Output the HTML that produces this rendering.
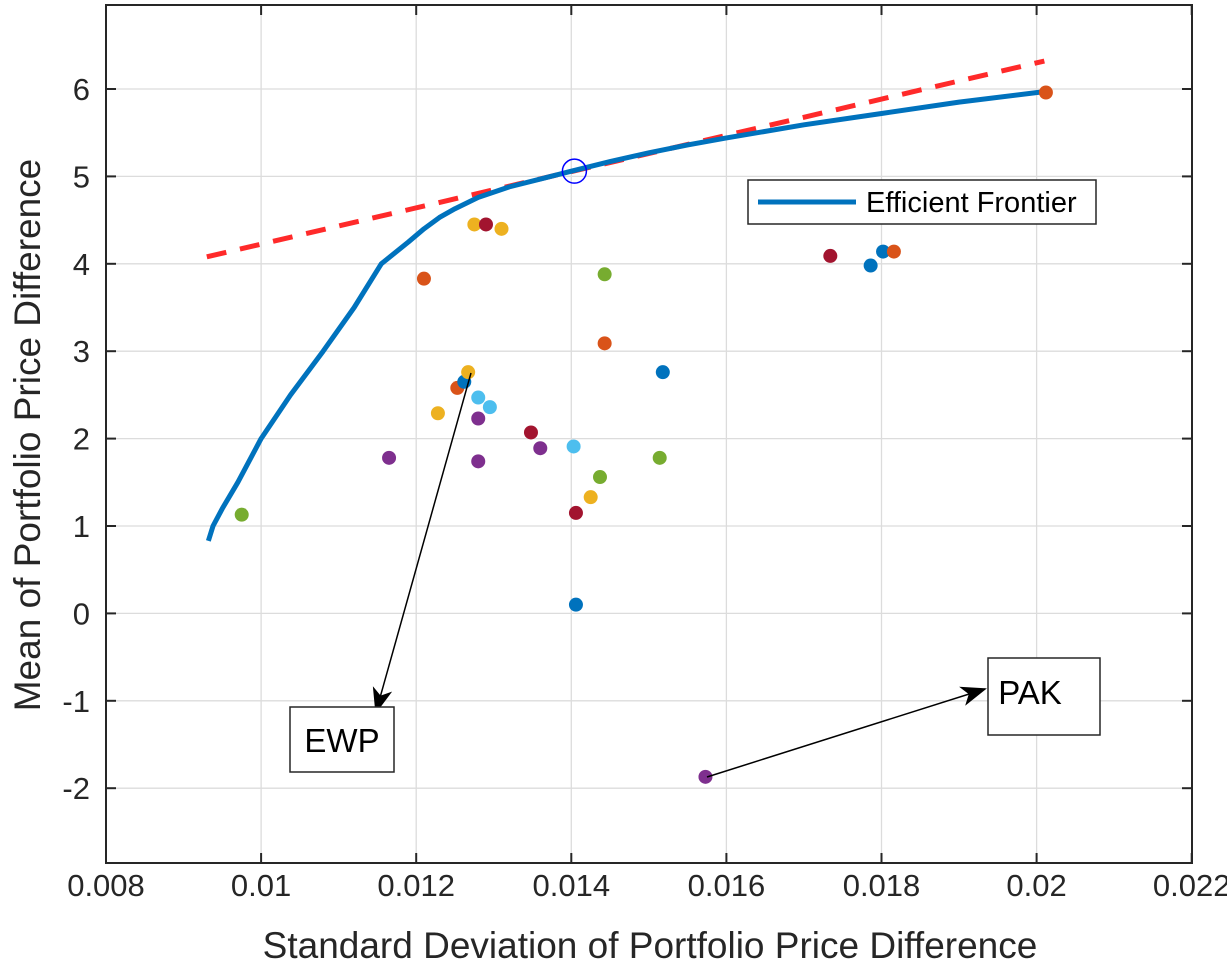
<!DOCTYPE html>
<html><head><meta charset="utf-8"><style>
body{margin:0;background:#fff}
svg{display:block;font-family:"Liberation Sans",Arial,sans-serif}
</style></head><body>
<svg id="chart" width="1227" height="975">
<defs><marker id="ah" markerWidth="26" markerHeight="20" refX="24" refY="10" orient="auto" markerUnits="userSpaceOnUse"><path d="M0,0 L26,10 L0,20 L7,10 Z" fill="#000"/></marker></defs>
<g id="grid"></g>
<g id="marks"></g>
<rect x="106" y="5" width="1086" height="858" fill="none" stroke="#262626" stroke-width="2"/>
<g id="ticks"></g>
<text x="650" y="958" font-size="37" text-anchor="middle" fill="#262626">Standard Deviation of Portfolio Price Difference</text>
<text transform="translate(40,435) rotate(-90)" font-size="37" text-anchor="middle" fill="#262626">Mean of Portfolio Price Difference</text>
<g>
<rect x="748" y="180" width="348" height="44" fill="#fff" stroke="#262626" stroke-width="1.5"/>
<line x1="758" y1="202" x2="856" y2="202" stroke="#0072BD" stroke-width="5"/>
<text x="866" y="212" font-size="29" fill="#000">Efficient Frontier</text>
</g>
<g>
<line x1="471" y1="373" x2="376" y2="712" stroke="#000" stroke-width="1.5" marker-end="url(#ah)"/>
<rect x="290" y="707" width="104" height="65" fill="#fff" stroke="#262626" stroke-width="1.5"/>
<text x="342" y="752" font-size="33" text-anchor="middle">EWP</text>
</g>
<g>
<line x1="707" y1="777" x2="985" y2="689" stroke="#000" stroke-width="1.5" marker-end="url(#ah)"/>
<rect x="988" y="658" width="112" height="77" fill="#fff" stroke="#262626" stroke-width="1.5"/>
<text x="1030" y="704" font-size="33" text-anchor="middle">PAK</text>
</g>
</svg>
<script>
const xTicks=[0.008,0.01,0.012,0.014,0.016,0.018,0.02,0.022];
const xTickLabels=["0.008","0.01","0.012","0.014","0.016","0.018","0.02","0.022"];
const yTicks=[-2,-1,0,1,2,3,4,5,6];
const frontierX=[0.00932,0.00938,0.0095,0.0097,0.0100,0.01038,0.0108,0.0112,0.01155,0.0119,0.0121,0.0123,0.0125,0.0128,0.0132,0.0136,0.014,0.0145,0.015,0.0155,0.016,0.017,0.018,0.019,0.0201];
const frontierY=[0.83,1.0,1.2,1.5,2.0,2.5,3.0,3.5,4.0,4.25,4.4,4.53,4.63,4.76,4.88,4.97,5.06,5.17,5.27,5.36,5.44,5.59,5.72,5.85,5.97];
const tangentX=[0.0093,0.0201];
const tangentY=[4.08,6.32];
const optimalX=[0.01404];
const optimalY=[5.06];
const assetX=[0.00975,0.01165,0.0121,0.01228,0.01253,0.01262,0.01267,0.01275,0.0129,0.0131,0.0128,0.01295,0.0128,0.0128,0.01348,0.0136,0.01403,0.01437,0.01425,0.01406,0.01406,0.01443,0.01443,0.01518,0.01514,0.01573,0.01734,0.01786,0.01802,0.01816,0.02012];
const assetY=[1.13,1.78,3.83,2.29,2.58,2.65,2.76,4.45,4.45,4.40,2.47,2.36,2.23,1.74,2.07,1.89,1.91,1.56,1.33,1.15,0.1,3.88,3.09,2.76,1.78,-1.87,4.09,3.98,4.14,4.14,5.96];
const assetColor=["#77AC30","#7E2F8E","#D95319","#EDB120","#D95319","#0072BD","#EDB120","#EDB120","#A2142F","#EDB120","#4DBEEE","#4DBEEE","#7E2F8E","#7E2F8E","#A2142F","#7E2F8E","#4DBEEE","#77AC30","#EDB120","#A2142F","#0072BD","#77AC30","#D95319","#0072BD","#77AC30","#7E2F8E","#A2142F","#0072BD","#0072BD","#D95319","#D95319"];
const NS="http://www.w3.org/2000/svg";
const X=v=>106+(v-0.008)/0.002*155.1;
const Y=v=>89-(v-6)*87.4;
function mk(p,t,a){const e=document.createElementNS(NS,t);for(const k in a)e.setAttribute(k,a[k]);document.getElementById(p).appendChild(e);return e;}
xTicks.forEach((t,i)=>{
 const g=mk('grid','line',{x1:X(t),x2:X(t),y1:5,y2:863,stroke:'#dcdcdc','stroke-width':1.3});
 
 
 mk('ticks','line',{x1:X(t),x2:X(t),y1:863,y2:853,stroke:'#262626','stroke-width':2});
 mk('ticks','line',{x1:X(t),x2:X(t),y1:5,y2:15,stroke:'#262626','stroke-width':2});
 const l=mk('ticks','text',{x:X(t),y:896,'font-size':31,'text-anchor':'middle',fill:'#262626'});
 l.textContent=xTickLabels[i];
 
 
});
yTicks.forEach(t=>{
 const g=mk('grid','line',{x1:106,x2:1192,y1:Y(t),y2:Y(t),stroke:'#dcdcdc','stroke-width':1.3});
 
 
 mk('ticks','line',{x1:106,x2:116,y1:Y(t),y2:Y(t),stroke:'#262626','stroke-width':2});
 mk('ticks','line',{x1:1182,x2:1192,y1:Y(t),y2:Y(t),stroke:'#262626','stroke-width':2});
 const l=mk('ticks','text',{x:90,y:Y(t)+11,'font-size':31,'text-anchor':'end',fill:'#262626'});
 l.textContent=String(t);
 
 
});
const tl=mk('marks','line',{x1:X(tangentX[0]),y1:Y(tangentY[0]),x2:X(tangentX[1]),y2:Y(tangentY[1]),stroke:'#ff2a2a','stroke-width':5,'stroke-dasharray':'20,14'});


const fp=mk('marks','path',{d:frontierX.map((x,i)=>(i?'L':'M')+X(x)+','+Y(frontierY[i])).join(''),fill:'none',stroke:'#0072BD','stroke-width':5,'stroke-linejoin':'round'});


assetX.forEach((x,i)=>{
 const c=mk('marks','circle',{cx:X(x),cy:Y(assetY[i]),r:7,fill:assetColor[i]});
 
 
});
const oc=mk('marks','circle',{cx:X(optimalX[0]),cy:Y(optimalY[0]),r:12,fill:'none',stroke:'#0000ff','stroke-width':1.5});


</script>
</body></html>
